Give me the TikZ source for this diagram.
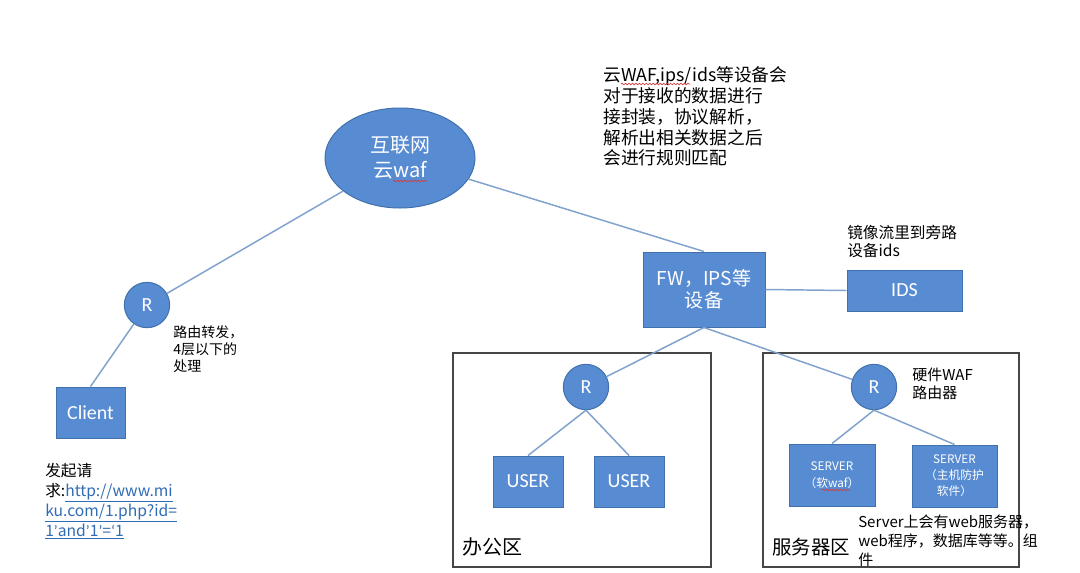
\documentclass[tikz,border=0pt]{standalone}
\usepackage{fontspec}
\setmainfont{Noto Sans CJK SC}
\newfontfamily\lat{Carlito}
\usetikzlibrary{shapes.geometric,decorations.pathmorphing}
\definecolor{nodeblue}{RGB}{88,140,210}
\definecolor{nodeborder}{RGB}{65,113,172}
\definecolor{linecol}{RGB}{128,162,205}
\definecolor{zonegray}{RGB}{70,70,70}
\definecolor{linkblue}{RGB}{47,108,181}
\definecolor{squig}{RGB}{215,60,60}
\newcommand{\lnk}[1]{{\color{linkblue}\underline{#1}}}
\tikzset{
  bluebox/.style={rectangle, fill=nodeblue, draw=nodeborder, line width=0.75pt, text=white, inner sep=1pt, align=center},
  router/.style={circle, fill=nodeblue, draw=nodeborder, line width=0.75pt, text=white, minimum size=34pt, inner sep=0pt, font=\lat\fontsize{15}{18}\selectfont},
  conn/.style={draw=linecol, line width=1.1pt},
  zone/.style={draw=zonegray, line width=0.9pt},
  note/.style={anchor=north west, align=left, inner sep=0pt, text=black},
  latlabel/.style={font=\lat\fontsize{15}{18}\selectfont},
  spell/.style={draw=squig, line width=0.5pt, decorate, decoration={snake, amplitude=0.6pt, segment length=2.6pt}},
}
\begin{document}
\begin{tikzpicture}[x=0.75pt,y=-0.75pt]
\useasboundingbox (0,0) rectangle (1080,572);
\fill[white] (0,0) rectangle (1080,572);

% zones
\draw[zone] (453,353) rectangle (711,567);
\draw[zone] (763,353) rectangle (1019,567);

% nodes
\node[ellipse, fill=nodeblue, draw=nodeborder, line width=0.75pt, minimum width=112.5pt, minimum height=75pt, text=white, align=center, inner sep=0pt, font=\fontsize{15}{18.75}\selectfont] (ell) at (400,158) {互联网\\云waf};
\node[router] (rl) at (147,305) {R};
\node[bluebox, minimum width=51.75pt, minimum height=38.25pt, latlabel] (client) at (90.5,412.5) {Client};
\node[bluebox, minimum width=91.5pt, minimum height=56.25pt, font=\fontsize{14.3}{16.5}\selectfont] (fw) at (704,289.5) {FW，IPS等\\设备};
\node[bluebox, minimum width=86.25pt, minimum height=30.75pt, latlabel] (ids) at (904.5,290.5) {IDS};
\node[router] (ro) at (586,387) {R};
\node[router] (rs) at (874,387) {R};
\node[bluebox, minimum width=52.5pt, minimum height=38.25pt, latlabel] (u1) at (528,481.5) {USER};
\node[bluebox, minimum width=52.5pt, minimum height=38.25pt, latlabel] (u2) at (629,481.5) {USER};
\node[bluebox, minimum width=64.5pt, minimum height=46.5pt, font=\fontsize{8.8}{12.5}\selectfont] (s1) at (832,475) {SERVER\\（软waf）};
\node[bluebox, minimum width=63.75pt, minimum height=46.5pt, font=\fontsize{8.8}{12}\selectfont] (s2) at (954.5,476) {SERVER\\（主机防护\\软件）};

% connectors
\draw[conn] (ell) -- (rl);
\draw[conn] (ell) -- (fw.north);
\draw[conn] (rl) -- (client.north);
\draw[conn] (fw.east) -- (ids.west);
\draw[conn] (fw.south) -- (ro);
\draw[conn] (fw.south) -- (rs);
\draw[conn] (ro.south) -- (u1.north);
\draw[conn] (ro.south) -- (u2.north);
\draw[conn] (rs.south) -- (s1.north);
\draw[conn] (rs.south) -- (s2.north);

% notes
\node[note, font=\fontsize{13.3}{15.6}\selectfont] (n1) at (603,66.5) {云WAF,ips/ids等设备会\\对于接收的数据进行\\接封装，协议解析，\\解析出相关数据之后\\会进行规则匹配};
\node[note, font=\fontsize{10.5}{12.75}\selectfont] (n2) at (173,325.5) {路由转发，\\4层以下的\\处理};
\node[note, font=\fontsize{11.75}{15}\selectfont] (n3) at (45,462.5) {发起请\\求:\lnk{http://www.mi}\\\lnk{ku.com/1.php?id=}\\\lnk{1{\lat’}and{\lat’}1{\lat’}={\lat‘}1}};
\node[note, font=\fontsize{11.75}{13.5}\selectfont] (n4) at (847,224.5) {镜像流里到旁路\\设备ids};
\node[note, font=\fontsize{11.25}{13.5}\selectfont] (n5) at (912,368) {硬件WAF\\路由器};
\node[note, font=\fontsize{11.25}{14.25}\selectfont] (n6) at (858,515) {Server上会有web服务器，\\web程序，数据库等等。组\\件};
\node[note, font=\fontsize{15}{18}\selectfont] (z1) at (462,537.5) {办公区};
\node[note, font=\fontsize{14.6}{18}\selectfont] (z2) at (772,537.5) {服务器区};

% spell-check squiggles
\draw[spell] (621,84) -- (690,84);
\draw[spell] (393,181) -- (427,181);
\draw[spell] (822,490) -- (850,490);
\end{tikzpicture}
\end{document}
